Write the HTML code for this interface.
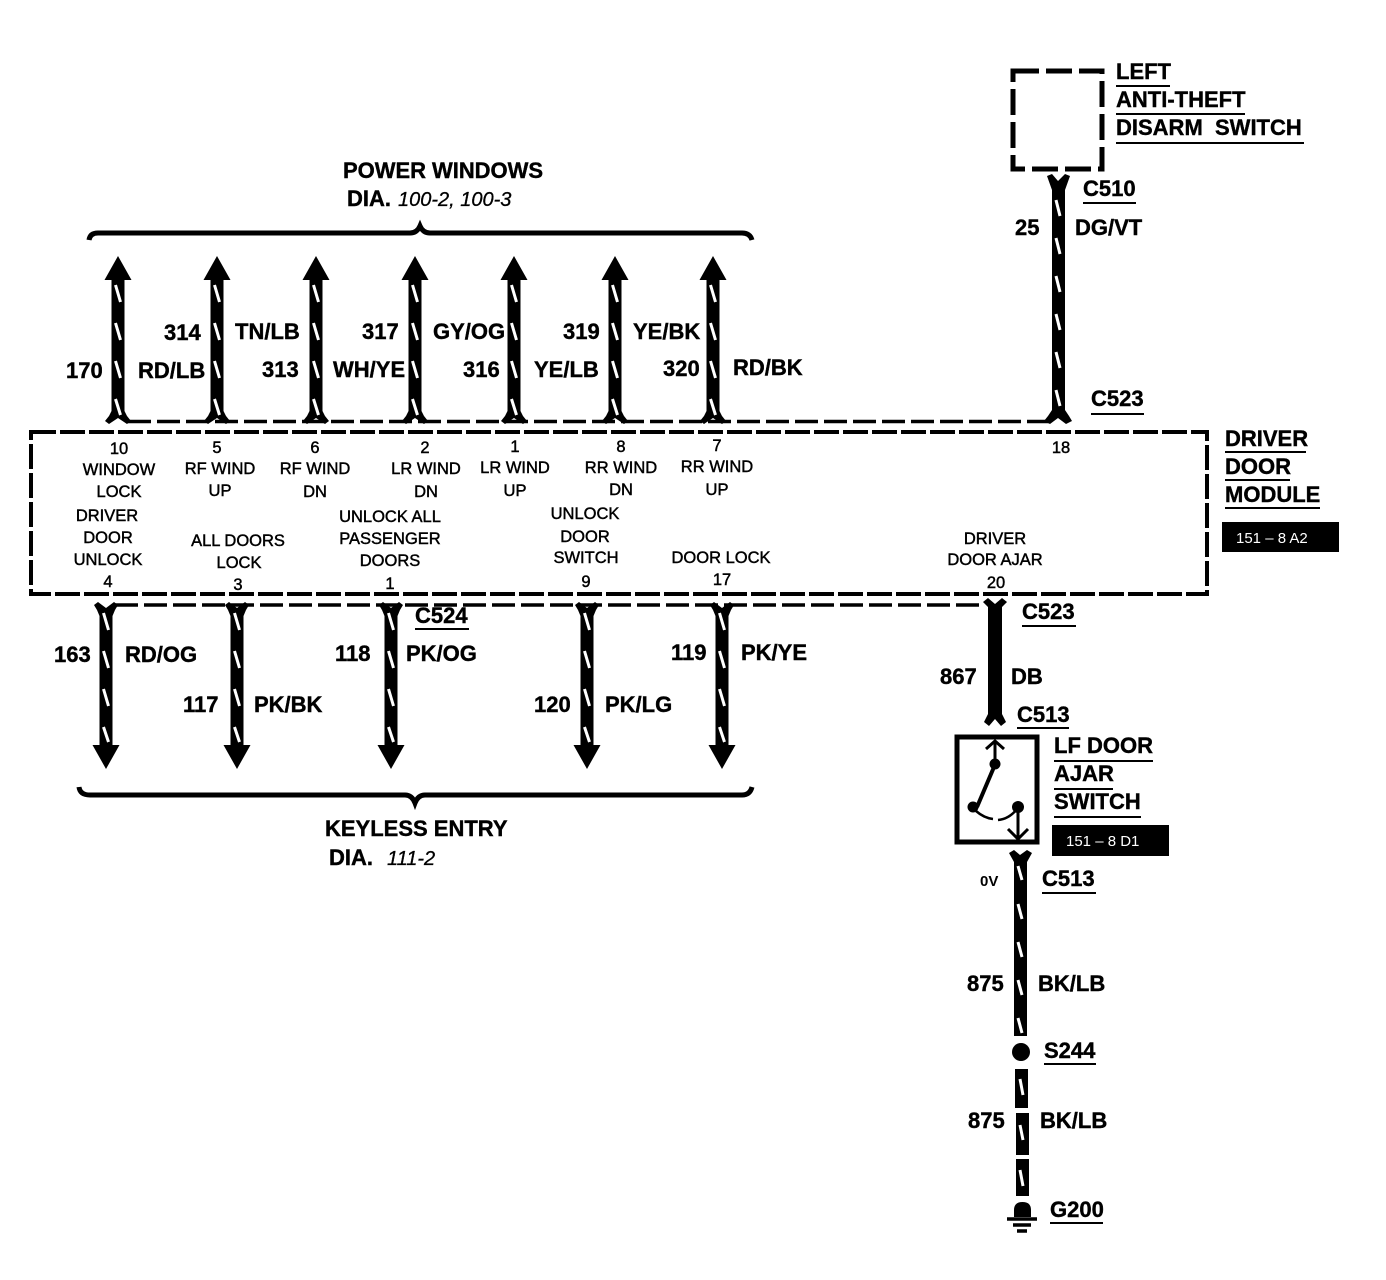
<!DOCTYPE html>
<html><head><meta charset="utf-8"><style>
html,body{margin:0;padding:0;background:#fff}
svg{display:block}
text{font-family:"Liberation Sans",sans-serif;fill:#000}
.b{font-weight:bold;font-size:22px;stroke:#000;stroke-width:.4px}
.s{font-size:16.5px;text-anchor:middle;stroke:#000;stroke-width:.45px}
.t{stroke:#fff;stroke-width:3;fill:none}
.d{stroke:#000;fill:none}
.u{stroke:#000;stroke-width:2}
</style></head><body>
<svg width="1386" height="1280" viewBox="0 0 1386 1280" xmlns="http://www.w3.org/2000/svg">
<defs>
<g id="up"><path d="M0-165L13.500-141H6.500V-10L9-5 13 0 9 3 0-3-9 3-13 0-9-5-6.500-10V-141H-13.500Z" fill="#000"/><path class="t" d="M-2.500-136L2.500-119M-2.500-98L2.500-81M-2.500-60L2.500-43M-2.500-22L2.500-6"/></g>
<g id="dn"><path d="M0 165L13.500 141H6.500V12L9 6 12 1 8-2 0 4-8-2-12 1-9 6-6.500 12V141H-13.500Z" fill="#000"/><path class="t" d="M-2.500 9L2.500 26M-2.500 47L2.500 64M-2.500 85L2.500 102M-2.500 123L2.500 138"/></g>
</defs>

<!-- Power windows header -->
<text class="b" x="343" y="178" textLength="200">POWER WINDOWS</text>
<text class="b" x="347" y="206">DIA.</text>
<text x="398" y="206" font-size="20" font-style="italic" stroke="#000" stroke-width=".3">100-2, 100-3</text>
<path d="M89 240Q90 233 98 233H410Q417 233 420 226Q423 233 430 233H742Q750 233 752 240" fill="none" stroke="#000" stroke-width="5"/>

<!-- Up wires -->
<use href="#up" x="118" y="421"/><use href="#up" x="217" y="421"/><use href="#up" x="316" y="421"/><use href="#up" x="415" y="421"/><use href="#up" x="514" y="421"/><use href="#up" x="615" y="421"/><use href="#up" x="713" y="421"/>
<path class="d" stroke-width="3.500" stroke-dasharray="23 6" d="M128 421.500H1050"/>

<text class="b" x="66" y="378">170</text><text class="b" x="138" y="378">RD/LB</text>
<text class="b" x="164" y="340">314</text><text class="b" x="235" y="339">TN/LB</text>
<text class="b" x="262" y="377">313</text><text class="b" x="333" y="377">WH/YE</text>
<text class="b" x="362" y="339">317</text><text class="b" x="433" y="339">GY/OG</text>
<text class="b" x="463" y="377">316</text><text class="b" x="534" y="377">YE/LB</text>
<text class="b" x="563" y="339">319</text><text class="b" x="633" y="339">YE/BK</text>
<text class="b" x="663" y="376">320</text><text class="b" x="733" y="375">RD/BK</text>

<!-- Driver door module -->
<rect x="31" y="432" width="1176" height="162" fill="none" stroke="#000" stroke-width="4" stroke-dasharray="25 4"/>

<text class="s" x="119" y="454">10</text><text class="s" x="119" y="475">WINDOW</text><text class="s" x="119" y="497">LOCK</text>
<text class="s" x="217" y="453">5</text><text class="s" x="220" y="474">RF WIND</text><text class="s" x="220" y="496">UP</text>
<text class="s" x="315" y="453">6</text><text class="s" x="315" y="474">RF WIND</text><text class="s" x="315" y="497">DN</text>
<text class="s" x="425" y="453">2</text><text class="s" x="426" y="474">LR WIND</text><text class="s" x="426" y="497">DN</text>
<text class="s" x="515" y="452">1</text><text class="s" x="515" y="473">LR WIND</text><text class="s" x="515" y="496">UP</text>
<text class="s" x="621" y="452">8</text><text class="s" x="621" y="473">RR WIND</text><text class="s" x="621" y="495">DN</text>
<text class="s" x="717" y="451">7</text><text class="s" x="717" y="472">RR WIND</text><text class="s" x="717" y="495">UP</text>
<text class="s" x="1061" y="453">18</text>

<text class="s" x="107" y="521">DRIVER</text><text class="s" x="108" y="543">DOOR</text><text class="s" x="108" y="565">UNLOCK</text><text class="s" x="108" y="587">4</text>
<text class="s" x="238" y="546">ALL DOORS</text><text class="s" x="239" y="568">LOCK</text><text class="s" x="238" y="590">3</text>
<text class="s" x="390" y="522">UNLOCK ALL</text><text class="s" x="390" y="544">PASSENGER</text><text class="s" x="390" y="566">DOORS</text><text class="s" x="390" y="589">1</text>
<text class="s" x="585" y="519">UNLOCK</text><text class="s" x="585" y="542">DOOR</text><text class="s" x="586" y="563">SWITCH</text><text class="s" x="586" y="587">9</text>
<text class="s" x="721" y="563">DOOR LOCK</text><text class="s" x="722" y="585">17</text>
<text class="s" x="995" y="544">DRIVER</text><text class="s" x="995" y="565">DOOR AJAR</text><text class="s" x="996" y="588">20</text>

<text class="b" x="1225" y="446">DRIVER</text><text class="b" x="1225" y="474">DOOR</text><text class="b" x="1225" y="502">MODULE</text>
<path class="u" d="M1225 452H1306M1225 480H1290M1225 508H1320"/>
<rect x="1222" y="522" width="117" height="30" fill="#000"/>
<text x="1236" y="543" font-size="15" style="fill:#fff">151 – 8 A2</text>

<!-- Down wires -->
<path class="d" stroke-width="3.500" stroke-dasharray="23 6" d="M115 605H985"/>
<use href="#dn" x="106" y="604"/><use href="#dn" x="237" y="604"/><use href="#dn" x="391" y="604"/><use href="#dn" x="587" y="604"/><use href="#dn" x="722" y="604"/>
<text class="b" x="54" y="662">163</text><text class="b" x="125" y="662">RD/OG</text>
<text class="b" x="183" y="712">117</text><text class="b" x="254" y="712">PK/BK</text>
<text class="b" x="335" y="661">118</text><text class="b" x="406" y="661">PK/OG</text>
<text class="b" x="534" y="712">120</text><text class="b" x="605" y="712">PK/LG</text>
<text class="b" x="671" y="660">119</text><text class="b" x="741" y="660">PK/YE</text>
<text class="b" x="415" y="623">C524</text><path class="u" d="M415 629H469"/>

<path d="M79 787Q80 795 90 795H405Q412 795 415 803Q418 795 425 795H742Q750 795 752 787" fill="none" stroke="#000" stroke-width="5"/>
<text class="b" x="325" y="836">KEYLESS ENTRY</text>
<text class="b" x="329" y="865">DIA.</text>
<text x="387" y="865" font-size="20" font-style="italic" stroke="#000" stroke-width=".3">111-2</text>

<!-- Left anti-theft switch -->
<rect x="1013" y="71" width="89" height="98" fill="none" stroke="#000" stroke-width="5" stroke-dasharray="26 7"/>
<text class="b" x="1116" y="79">LEFT</text><text class="b" x="1116" y="107">ANTI-THEFT</text><text class="b" x="1116" y="135" xml:space="preserve">DISARM  SWITCH</text>
<path class="u" d="M1116 86H1170M1116 114H1245M1116 143H1304"/>
<path d="M1047 176L1052 174 1058 181 1065 174 1070 176 1065 190V410L1069 416 1072 421 1066 424 1058 418 1050 424 1044 421 1048 416 1052 410V190Z" fill="#000"/>
<path class="t" d="M1056 200L1060 216M1056 238L1060 254M1056 276L1060 292M1056 314L1060 330M1056 352L1060 368M1056 390L1060 406"/>
<text class="b" x="1083" y="196">C510</text><path class="u" d="M1083 203H1136"/>
<text class="b" x="1015" y="235">25</text><text class="b" x="1075" y="235">DG/VT</text>
<text class="b" x="1091" y="406">C523</text><path class="u" d="M1091 414H1144"/>

<!-- DB wire -->
<path d="M988 607L983 602 988 598 995 604 1002 598 1007 602 1002 607V714L1006 722 1001 726 995 719 989 726 984 722 988 714Z" fill="#000"/>
<text class="b" x="1022" y="619">C523</text><path class="u" d="M1022 626H1076"/>
<text class="b" x="940" y="684">867</text><text class="b" x="1011" y="684">DB</text>
<text class="b" x="1017" y="722">C513</text><path class="u" d="M1017 728H1069"/>

<!-- Door ajar switch -->
<rect x="957" y="737" width="80" height="105" fill="none" stroke="#000" stroke-width="5"/>
<path d="M995 741V760M986 749L995 741 1004 749" fill="none" stroke="#000" stroke-width="3"/>
<circle cx="995" cy="764" r="5.500" fill="#000"/>
<path d="M994 767L977 807" stroke="#000" stroke-width="4"/>
<circle cx="973" cy="807" r="5.500" fill="#000"/>
<path d="M976 811Q984 818 993 819M998 820Q1009 819 1017 809" fill="none" stroke="#000" stroke-width="2.500"/>
<circle cx="1018" cy="807" r="6" fill="#000"/>
<path d="M1018 810V838M1008 829L1018 839 1028 829" fill="none" stroke="#000" stroke-width="3"/>
<text class="b" x="1054" y="753">LF DOOR</text><text class="b" x="1054" y="781">AJAR</text><text class="b" x="1054" y="809">SWITCH</text>
<path class="u" d="M1054 761H1153M1054 789H1113M1054 817H1141"/>
<rect x="1052" y="825" width="117" height="31" fill="#000"/>
<text x="1066" y="846" font-size="15" style="fill:#fff">151 – 8 D1</text>

<!-- Lower wire -->
<path d="M1009 853L1014 850 1020 855 1027 850 1032 853 1027 862V1036H1014V862Z" fill="#000"/>
<path class="t" d="M1018 866L1022 880M1018 904L1022 919M1018 942L1022 957M1018 980L1022 995M1018 1018L1022 1033"/>
<text x="980" y="886" font-size="15" font-weight="bold">0V</text>
<text class="b" x="1042" y="886">C513</text><path class="u" d="M1042 893H1096"/>
<text class="b" x="967" y="991">875</text><text class="b" x="1038" y="991">BK/LB</text>
<circle cx="1021" cy="1052" r="9" fill="#000"/>
<text class="b" x="1044" y="1058">S244</text><path class="u" d="M1044 1064H1096"/>
<rect x="1015" y="1069" width="13" height="39" fill="#000"/>
<rect x="1016" y="1113" width="13" height="42" fill="#000"/>
<rect x="1016" y="1159" width="13" height="37" fill="#000"/>
<path class="t" d="M1020 1079L1023 1095M1020 1125L1023 1140M1020 1170L1023 1186"/>
<text class="b" x="968" y="1128">875</text><text class="b" x="1040" y="1128">BK/LB</text>
<path d="M1014 1217V1210Q1014 1202 1022.500 1202Q1031 1202 1031 1210V1217Z" fill="#000"/>
<path d="M1007 1219H1037M1013 1225H1031M1017 1231H1027" stroke="#000" stroke-width="3.500"/>
<text class="b" x="1050" y="1217">G200</text><path class="u" d="M1050 1223H1103"/>
</svg>
</body></html>
